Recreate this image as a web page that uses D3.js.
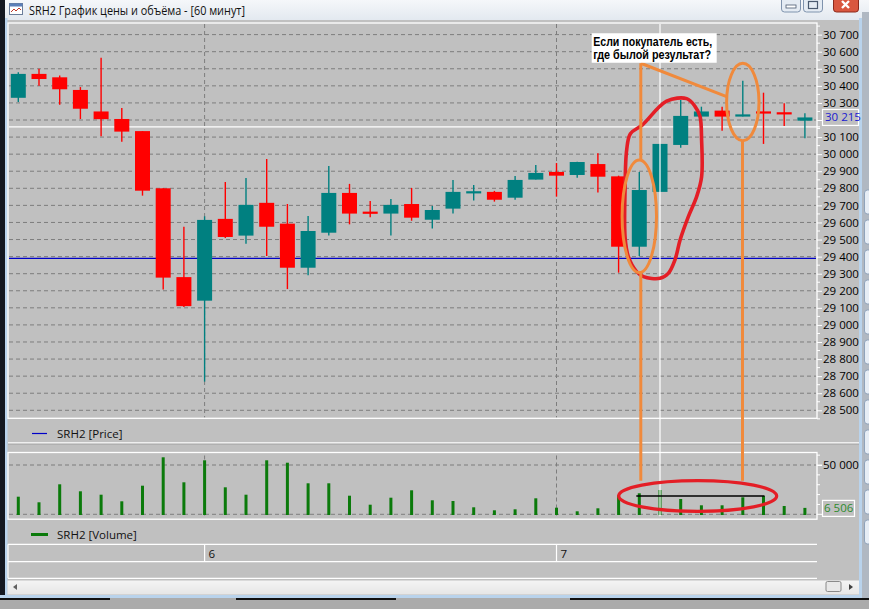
<!DOCTYPE html>
<html><head><meta charset="utf-8">
<script src="https://cdn.jsdelivr.net/npm/d3@7"></script>
<style>
body{margin:0;overflow:hidden;background:#c0c0c0}
svg{display:block}
text{font-family:"Open Sans","Liberation Sans",Arial,sans-serif}
</style>
</head><body>
<svg id="c" width="869" height="609"></svg>
<script>
// ---------------- DATA ----------------
const opens  = [30330,30470,30450,30376,30250,30206,30135,29800,29280,29142,29621,29523,29715,29593,29335,29540,29773,29662,29652,29708,29616,29681,29775,29779,29745,29851,29896,29878,29942,29870,29458,29779,30054,30220,30255,30220,30245,30240,30196];
const highs  = [30480,30500,30460,30393,30565,30270,30135,29800,29575,29636,29837,29861,29972,29708,29638,29931,29826,29726,29738,29802,29697,29849,29820,29785,29872,29937,29948,29956,30005,29874,29896,30060,30317,30278,30278,30430,30360,30298,30240];
const lows   = [30305,30400,30290,30206,30105,30073,29757,29207,29105,28668,29509,29476,29404,29210,29291,29523,29589,29630,29523,29610,29564,29652,29728,29722,29733,29851,29751,29862,29775,29306,29404,29779,30038,30200,30137,30220,30060,30165,30093];
const closes = [30470,30440,30380,30266,30205,30132,29786,29277,29110,29615,29515,29703,29575,29335,29550,29773,29652,29652,29703,29628,29673,29779,29778,29733,29849,29890,29874,29954,29868,29458,29790,30060,30224,30250,30220,30233,30243,30238,30215];
const volumes= [17850,12170,30430,23330,19880,13180,29010,57810,32450,54770,27380,19880,54770,52330,31440,31440,18860,9740,16840,24340,14200,13490,7100,4060,5070,16230,6700,3040,6080,19270,21300,24640,15520,9130,9130,17240,18560,8420,6506];
const dayLabels = ["6","7"];
const dayStartIndex = [9,26];
const priceTicks = d3.range(28500, 30701, 100);
const priceMinorTicks = d3.range(28450, 30751, 50);
const volumeLabelTicks = [50000];
const volumeGridTicks = [0, 50000];
const volumeMinorTicks = d3.range(0, 60001, 10000);
const lastPrice = 30215;
const lastVolume = 6506;
const levelLine = 29390;
const crossIndex = 31, crossPrice = 30160;
const titleText = "SRH2 График цены и объёма - [60 минут]";
const priceLegend = "SRH2 [Price]";
const volumeLegend = "SRH2 [Volume]";
const noteLines = ["Если покупатель есть,", "где былой результат?"];

// ---------------- SETUP ----------------
const svg = d3.select("#c");
const W = 869, H = 609;
const n = opens.length;
const plotL = 8, plotR = 817;
const priceTop = 23, priceBot = 418.3;
const volTop = 452.5, volBot = 519.2;

const x = d3.scaleLinear().domain([0, n-1]).range([18.3, 804.9]);
const y = d3.scaleLinear().domain([28500, 30600]).range([410.3, 51.7]);
const yv = d3.scaleLinear().domain([0, 50000]).range([514.3, 465]);
const loc = d3.formatLocale({decimal:".", thousands:" ", grouping:[3], currency:["",""]});
const fmt = loc.format(",");

const UP = "#008080", DOWN = "#ff0000", VOL = "#0b7a0b";

svg.append("rect").attr("width",W).attr("height",H).attr("fill","#c0c0c0");
const defs = svg.append("defs");
const grad = defs.append("linearGradient").attr("id","tb").attr("x1",0).attr("y1",0).attr("x2",0).attr("y2",1);
grad.append("stop").attr("offset","0").attr("stop-color","#f5f7fa");
grad.append("stop").attr("offset","1").attr("stop-color","#e3e9f0");
svg.append("rect").attr("x",0).attr("y",0).attr("width",W).attr("height",20).attr("fill","url(#tb)");
const ic = svg.append("g");
ic.append("rect").attr("x",9.5).attr("y",3.5).attr("width",13).attr("height",11).attr("fill","#fff").attr("stroke","#6b7d99");
ic.append("rect").attr("x",9.5).attr("y",3.5).attr("width",13).attr("height",3).attr("fill","#5b7fb8");
ic.append("polyline").attr("points","11,12 14,9 16,11 19,8 21,10").attr("fill","none").attr("stroke","#c0392b").attr("stroke-width",1);
svg.append("text").attr("x",29).attr("y",15).attr("font-size",11.8).attr("fill","#111")
  .attr("textLength",216).attr("lengthAdjust","spacingAndGlyphs").text(titleText);
const btn = (bx,bw,fill,stroke)=>svg.append("rect").attr("x",bx).attr("y",-4).attr("width",bw).attr("height",16).attr("rx",3).attr("fill",fill).attr("stroke",stroke);
btn(781.5,19,"#e4ebf3","#7f93ad");
btn(803.5,19,"#e4ebf3","#7f93ad");
btn(833.5,25,"#d9573f","#8c2a1c");
svg.append("rect").attr("x",786).attr("y",5).attr("width",10).attr("height",3).attr("fill","#fff").attr("stroke","#4a5a70").attr("stroke-width",0.8);
svg.append("rect").attr("x",808.5).attr("y",1.5).attr("width",9).attr("height",7).attr("fill","none").attr("stroke","#4a5a70").attr("stroke-width",1.2);
svg.append("path").attr("d","M842,1 L849,8 M849,1 L842,8").attr("stroke","#fff").attr("stroke-width",2.4);

// borders
svg.append("rect").attr("x",0).attr("y",0).attr("width",5).attr("height",598).attr("fill","#141821");
svg.append("rect").attr("x",5).attr("y",18).attr("width",2.5).attr("height",580).attr("fill","#b9d3ec");
svg.append("rect").attr("x",859).attr("y",18).attr("width",3).attr("height",580).attr("fill","#b9d3ec");
svg.append("rect").attr("x",862).attr("y",12).attr("width",7).attr("height",586).attr("fill","#b0b8c2");
d3.range(12).forEach(k=>svg.append("rect").attr("x",864.5).attr("y",190+k*30).attr("width",8).attr("height",24).attr("rx",3).attr("fill","#e6edf5").attr("stroke","#8fa3bb"));
svg.append("rect").attr("x",0).attr("y",595).attr("width",862).attr("height",3).attr("fill","#b9d3ec");
svg.append("rect").attr("x",0).attr("y",598).attr("width",W).attr("height",11).attr("fill","#ababab");
svg.append("rect").attr("x",0).attr("y",598).attr("width",110).attr("height",2).attr("fill","#111");
svg.append("rect").attr("x",236).attr("y",598).attr("width",160).attr("height",2).attr("fill","#111");
svg.append("rect").attr("x",570).attr("y",598).attr("width",299).attr("height",2).attr("fill","#111");

// ---------------- PRICE PANEL ----------------
const pg = svg.append("g");
pg.append("rect").attr("x",plotL).attr("y",priceTop).attr("width",plotR-plotL).attr("height",priceBot-priceTop)
  .attr("fill","#c0c0c0").attr("stroke","#fff").attr("stroke-width",1.3);
pg.selectAll("line.hg").data(priceTicks).join("line").attr("class","hg")
  .attr("x1",plotL+1).attr("x2",plotR-1).attr("y1",d=>y(d)).attr("y2",d=>y(d))
  .attr("stroke","#7d7d7d").attr("stroke-dasharray","4,3").attr("stroke-width",1);
pg.selectAll("line.vg").data(dayStartIndex).join("line").attr("class","vg")
  .attr("x1",d=>x(d)).attr("x2",d=>x(d)).attr("y1",priceTop+1).attr("y2",priceBot-1)
  .attr("stroke","#7d7d7d").attr("stroke-dasharray","4,3");
const hidden = v => Math.abs(y(v)-y(lastPrice)) < 10;
const pAxis = d3.axisRight(y).tickValues(priceTicks).tickSize(5).tickPadding(1)
  .tickFormat(v => hidden(v) ? "" : fmt(v));
const pa = svg.append("g").attr("transform",`translate(${plotR},0)`).call(pAxis);
pa.select(".domain").remove();
pa.selectAll("line").attr("stroke","#fff");
pa.selectAll("text").attr("font-size",11.5).attr("fill","#000");
svg.append("g").selectAll("line").data(priceMinorTicks.filter(v=>v%100!==0)).join("line")
  .attr("x1",plotR).attr("x2",plotR+3).attr("y1",d=>y(d)).attr("y2",d=>y(d)).attr("stroke","#fff");
pg.append("line").attr("x1",plotL+1).attr("x2",plotR-1).attr("y1",y(levelLine)).attr("y2",y(levelLine))
  .attr("stroke","#0000c8").attr("stroke-width",1.3);
pg.append("line").attr("x1",plotL+1).attr("x2",plotR+3).attr("y1",y(crossPrice)).attr("y2",y(crossPrice))
  .attr("stroke","#fff").attr("stroke-width",1.3);

// candles
const candles = d3.range(n).map(i=>({i,o:opens[i],h:highs[i],l:lows[i],c:closes[i]}));
const col = d=> d.c>=d.o ? UP : DOWN;
pg.selectAll("line.wick").data(candles).join("line").attr("class","wick")
  .attr("x1",d=>x(d.i)).attr("x2",d=>x(d.i)).attr("y1",d=>y(d.h)).attr("y2",d=>y(d.l))
  .attr("stroke",col).attr("stroke-width",1.4);
pg.selectAll("rect.body").data(candles).join("rect").attr("class","body")
  .attr("x",d=>x(d.i)-7.5).attr("width",15)
  .attr("y",d=>Math.min(y(d.o),y(d.c)) - (Math.abs(y(d.o)-y(d.c))<2.2 ? 1.1 - Math.abs(y(d.o)-y(d.c))/2 : 0))
  .attr("height",d=>Math.max(2.2,Math.abs(y(d.o)-y(d.c))))
  .attr("fill",col);

const lp = svg.append("g");
lp.append("rect").attr("x",822.5).attr("y",y(lastPrice)-8).attr("width",36).attr("height",16).attr("fill","#c0c0c0").attr("stroke","#fff").attr("stroke-width",1.2);
lp.append("text").attr("x",825).attr("y",y(lastPrice)+4).attr("font-size",11.5).attr("fill","#1a1ad0").text(fmt(lastPrice));

svg.append("line").attr("x1",32).attr("x2",47).attr("y1",433.5).attr("y2",433.5).attr("stroke","#0000c8").attr("stroke-width",1.2);
svg.append("text").attr("x",57).attr("y",437.5).attr("font-size",11.5).attr("fill","#111").text(priceLegend);
svg.append("line").attr("x1",plotL).attr("x2",859).attr("y1",442.8).attr("y2",442.8).attr("stroke","#fff").attr("stroke-width",1.3);
svg.append("line").attr("x1",plotL).attr("x2",859).attr("y1",444.2).attr("y2",444.2).attr("stroke","#a8a8a8").attr("stroke-width",1);

// ---------------- VOLUME PANEL ----------------
const vg = svg.append("g");
vg.append("rect").attr("x",plotL).attr("y",volTop).attr("width",plotR-plotL).attr("height",volBot-volTop)
  .attr("fill","#c0c0c0").attr("stroke","#fff").attr("stroke-width",1.3);
vg.selectAll("line.hg").data(volumeGridTicks).join("line").attr("class","hg")
  .attr("x1",plotL+1).attr("x2",plotR-1).attr("y1",d=>yv(d)).attr("y2",d=>yv(d))
  .attr("stroke","#7d7d7d").attr("stroke-dasharray","4,3");
vg.selectAll("line.vg").data(dayStartIndex).join("line").attr("class","vg")
  .attr("x1",d=>x(d)).attr("x2",d=>x(d)).attr("y1",volTop+3).attr("y2",volBot-1)
  .attr("stroke","#7d7d7d").attr("stroke-dasharray","4,3");
const vAxis = d3.axisRight(yv).tickValues(volumeLabelTicks).tickSize(5).tickPadding(1).tickFormat(fmt);
const va = svg.append("g").attr("transform",`translate(${plotR},0)`).call(vAxis);
va.select(".domain").remove();
va.selectAll("line").attr("stroke","#fff");
va.selectAll("text").attr("font-size",11.5).attr("fill","#000");
svg.append("g").selectAll("line").data(volumeMinorTicks).join("line")
  .attr("x1",plotR).attr("x2",d=>d%50000===0?plotR+5:plotR+3).attr("y1",d=>yv(d)).attr("y2",d=>yv(d)).attr("stroke","#fff");
vg.selectAll("rect.vb").data(volumes).join("rect").attr("class","vb")
  .attr("x",(d,i)=>x(i)-1.5).attr("width",3).attr("y",d=>yv(d)).attr("height",d=>yv(0)-yv(d)+0.7)
  .attr("fill",VOL);
const lv = svg.append("g");
lv.append("rect").attr("x",822.5).attr("y",yv(lastVolume)-7.5).attr("width",32).attr("height",16).attr("fill","#c0c0c0").attr("stroke","#fff").attr("stroke-width",1.2);
lv.append("text").attr("x",824).attr("y",yv(lastVolume)+4.5).attr("font-size",11.5).attr("fill","#2e8b2e").text(fmt(lastVolume));

svg.append("line").attr("x1",x(crossIndex)).attr("x2",x(crossIndex)).attr("y1",priceTop+1).attr("y2",volBot-3)
  .attr("stroke","#fff").attr("stroke-width",1.2);

svg.append("line").attr("x1",31).attr("x2",48).attr("y1",534.5).attr("y2",534.5).attr("stroke",VOL).attr("stroke-width",3);
svg.append("text").attr("x",57).attr("y",538.5).attr("font-size",11.5).attr("fill","#111").text(volumeLegend);

// ---------------- TIME AXIS ----------------
[544.3,561.7,578.3].forEach(yy=>svg.append("line").attr("x1",plotL).attr("x2",plotR).attr("y1",yy).attr("y2",yy).attr("stroke","#fff").attr("stroke-width",1.2));
svg.append("line").attr("x1",plotL).attr("x2",plotL).attr("y1",544.3).attr("y2",578.3).attr("stroke","#fff").attr("stroke-width",1.2);
svg.selectAll("line.dsep").data(dayStartIndex).join("line").attr("class","dsep")
  .attr("x1",d=>x(d)).attr("x2",d=>x(d)).attr("y1",544.3).attr("y2",561.7).attr("stroke","#fff").attr("stroke-width",1.2);
svg.selectAll("text.dl").data(dayLabels).join("text").attr("class","dl")
  .attr("x",(d,i)=>x(dayStartIndex[i])+4).attr("y",557.5).attr("font-size",11.5).attr("fill","#111").text(d=>d);

const sg = defs.append("linearGradient").attr("id","sb").attr("x1",0).attr("y1",0).attr("x2",0).attr("y2",1);
sg.append("stop").attr("offset","0").attr("stop-color","#f4f4f4");
sg.append("stop").attr("offset","1").attr("stop-color","#e6e6e6");
svg.append("rect").attr("x",7.5).attr("y",580.5).attr("width",851.5).attr("height",14).attr("fill","url(#sb)");
svg.append("path").attr("d","M13,587 L17,584 L17,590 Z").attr("fill","#606060");
svg.append("path").attr("d","M849,584 L853,587 L849,590 Z").attr("fill","#404040");
svg.append("rect").attr("x",826).attr("y",581.5).attr("width",15).attr("height",10).attr("rx",1.5).attr("fill","#e8e8e8").attr("stroke","#8a8a8a");

// ---------------- ANNOTATIONS ----------------
const ORANGE = "#f08a3c", RED = "#e41e26";
const an = svg.append("g");
const blob = [[29.57,30120],[30.14,30170],[31.32,30310],[32.29,30325],[32.69,30280],[32.93,30222],[33.01,30082],[33.01,29868],[32.77,29751],[32.37,29634],[31.97,29497],[31.72,29380],[31.4,29302],[31.0,29273],[30.2,29283],[29.87,29312],[29.47,29400],[29.31,29517],[29.31,29790],[29.39,30025]];
an.append("path").attr("d",d3.line().x(d=>x(d[0])).y(d=>y(d[1])).curve(d3.curveCatmullRomClosed.alpha(0.5))(blob))
  .attr("fill","none").attr("stroke",RED).attr("stroke-width",3.6).attr("stroke-linejoin","round");
const e1 = {cx:x(30), cy:y(29636), rx:17.2, ry:56.3};
const e2 = {cx:x(35), cy:y(30305), rx:16.2, ry:38.7};
const e3 = {cx:x(32.82), cy:yv(18560), rx:79, ry:15.3};
[e1,e2].forEach(e=>an.append("ellipse").attr("cx",e.cx).attr("cy",e.cy).attr("rx",e.rx).attr("ry",e.ry)
  .attr("fill","none").attr("stroke",ORANGE).attr("stroke-width",3));
an.append("line").attr("x1",x(30)-3).attr("x2",x(36)+1).attr("y1",yv(volumes[36])).attr("y2",yv(volumes[36]))
  .attr("stroke","#000").attr("stroke-width",1.3);
an.append("ellipse").attr("cx",e3.cx).attr("cy",e3.cy).attr("rx",e3.rx).attr("ry",e3.ry)
  .attr("fill","none").attr("stroke",RED).attr("stroke-width",3.2);
const boxX = x(27.7), boxY = y(30708), boxW = 125, boxH = 29.5;
const vx = e1.cx + 1.5, vy = boxY + boxH + 0.5;
an.append("path").attr("d",`M${vx},${vy} L${vx},${e1.cy-e1.ry} M${vx},${e1.cy+e1.ry} L${vx},${e3.cy-e3.ry}`)
  .attr("stroke",ORANGE).attr("stroke-width",3).attr("fill","none");
an.append("path").attr("d",`M${vx},${vy} L${e2.cx-e2.rx},${e2.cy-5.5}`)
  .attr("stroke",ORANGE).attr("stroke-width",3).attr("fill","none");
an.append("path").attr("d",`M${e2.cx-0.3},${e2.cy+e2.ry} L${e2.cx-0.3},${e3.cy-e3.ry}`)
  .attr("stroke",ORANGE).attr("stroke-width",3).attr("fill","none");
an.append("rect").attr("x",boxX).attr("y",boxY).attr("width",boxW).attr("height",boxH).attr("fill","#fff");
an.selectAll("text.note").data(noteLines).join("text").attr("class","note")
  .attr("x",boxX+1.5).attr("y",(d,i)=>boxY+12.6+i*13.5)
  .style("font-family",'"Liberation Sans",Arial,sans-serif')
  .attr("font-weight","bold").attr("font-size",12).attr("fill","#000")
  .attr("textLength",(d,i)=>i===0?119:118).attr("lengthAdjust","spacingAndGlyphs").text(d=>d);
</script>
</body></html>
